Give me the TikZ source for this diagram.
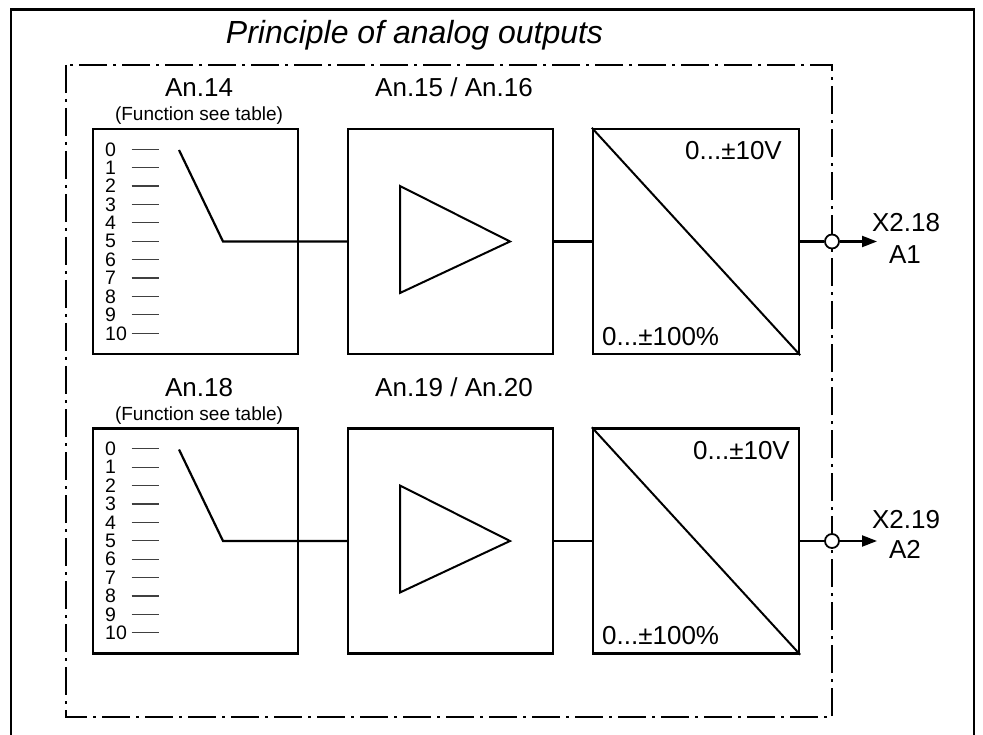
\documentclass[tikz,border=0pt]{standalone}
\usepackage{fontspec}
\setmainfont{Liberation Sans}
\usetikzlibrary{arrows.meta}
\begin{document}
\begin{tikzpicture}[x=1pt,y=-1pt,
  box/.style={draw, line width=2.4pt, minimum width=205pt, minimum height=225pt, inner sep=0pt},
  conn/.style={line width=2.2pt},
  lbl/.style={font=\fontsize{26}{30}\selectfont, inner sep=0pt},
  sml/.style={font=\fontsize{19}{22}\selectfont, inner sep=0pt},
  num/.style={font=\fontsize{19.5}{20}\selectfont, inner sep=0pt, anchor=west},
  tick/.style={line width=1.2pt, black!75},
  frame/.style={line width=2.4pt},
  dashdot/.style={line width=2.2pt, dash pattern=on 28pt off 6pt on 3pt off 6pt},
  term/.style={circle, draw, fill=white, line width=1.8pt, minimum size=14pt, inner sep=0pt},
  arr/.style={line width=2.2pt, -{Triangle[length=15pt,width=11pt]}}
]
\useasboundingbox (0,0) rectangle (983,735);
\fill[white] (0,0) rectangle (983,735);
\draw[frame] (11,740) -- (11,9.5) -- (974,9.5) -- (974,740);
\node[font=\itshape\fontsize{32}{36}\selectfont, anchor=base, inner sep=0pt] (title) at (414.5,43.5) {Principle of analog outputs};
\draw[dashdot] (66,65) rectangle (832,717);
\foreach \r/\dy/\la/\lb/\ra/\xa/\xb/\ya/\yb in {
  1/0/{An.14}/{An.15 / An.16}/782/{X2.18}/{A1}/232/264,
  2/299.5/{An.18}/{An.19 / An.20}/790/{X2.19}/{A2}/528/558}
{
  \node[box] (bA\r) at (195.5,241.5+\dy) {};
  \node[box] (bB\r) at (450.5,241.5+\dy) {};
  \node[box, minimum width=206pt] (bC\r) at (696,241.5+\dy) {};
  \node[lbl, anchor=base] (hA\r) at (199,97+\dy) {\la};
  \node[sml, anchor=base] (fn\r) at (199,121+\dy) {(Function see table)};
  \node[lbl, anchor=base] (hB\r) at (454,97+\dy) {\lb};
  \foreach \i in {0,...,10} {
    \node[num] (n\r-\i) at (105,149.3+18.4*\i+\dy) {\i};
    \draw[tick] (131.7,149.3+18.4*\i+\dy) -- (159,149.3+18.4*\i+\dy);
  }
  \coordinate (s\r) at (179,150+\dy);
  \coordinate (k\r) at (223,241.5+\dy);
  \draw[conn] (s\r) -- (k\r) -- (bB\r.west);
  \draw[line width=2pt, line join=miter] (400,186+\dy) -- (400,293+\dy) -- (510,241.5+\dy) -- cycle;
  \draw[conn] (bB\r.east) -- (bC\r.west);
  \draw[line width=2pt] (bC\r.north west) -- (bC\r.south east);
  \node[lbl, anchor=base east] (v\r) at (\ra,160+\dy) {0...±10V};
  \node[lbl, anchor=base west] (pc\r) at (602,345+\dy) {0...±100\%};
  \node[term] (c\r) at (832,241.5+\dy) {};
  \coordinate (t\r) at (877,241.5+\dy);
  \draw[conn] (bC\r.east) -- (c\r.west);
  \draw[arr] (c\r.east) -- (t\r);
  \node[lbl, anchor=base] (x\r) at (906,\ya) {\xa};
  \node[lbl, anchor=base] (a\r) at (905,\yb) {\xb};
}
\end{tikzpicture}
\end{document}
